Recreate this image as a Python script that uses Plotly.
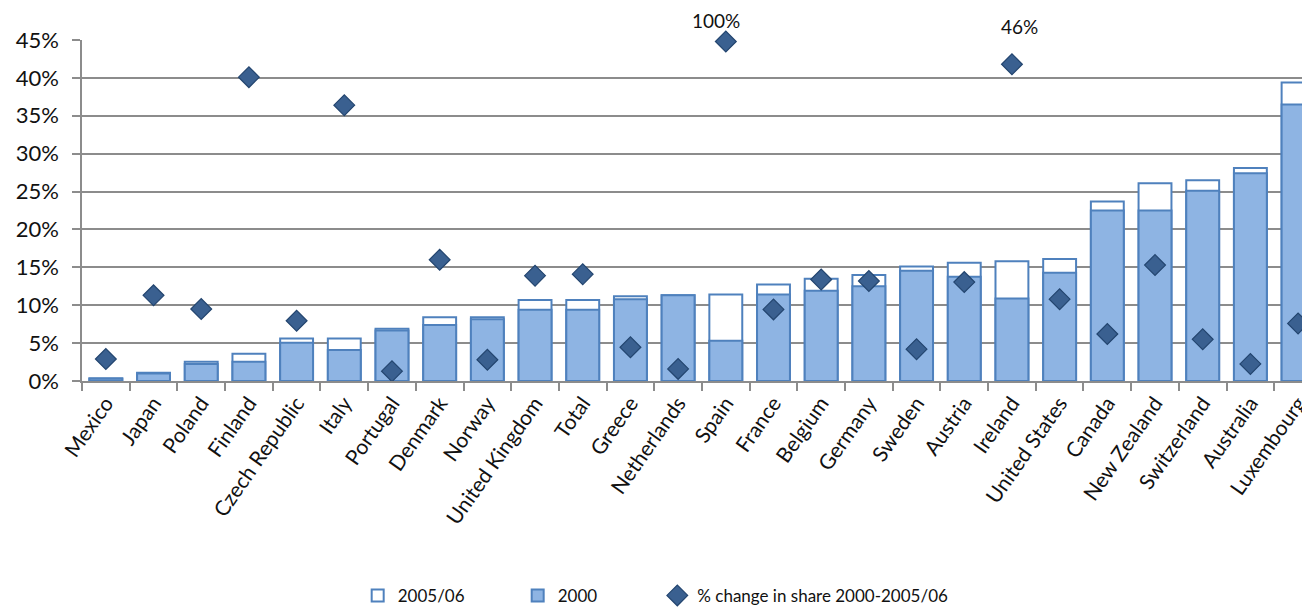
import plotly.graph_objects as go

countries = ["Mexico", "Japan", "Poland", "Finland", "Czech Republic", "Italy", "Portugal",
             "Denmark", "Norway", "United Kingdom", "Total", "Greece", "Netherlands", "Spain",
             "France", "Belgium", "Germany", "Sweden", "Austria", "Ireland", "United States",
             "Canada", "New Zealand", "Switzerland", "Australia", "Luxembourg"]
share_2005 = [0.35, 1.1, 2.55, 3.6, 5.6, 5.6, 6.9, 8.4, 8.4, 10.7, 10.7, 11.2, 11.3, 11.4,
              12.75, 13.5, 14.0, 15.1, 15.6, 15.8, 16.1, 23.7, 26.1, 26.5, 28.1, 39.4]
share_2000 = [0.3, 1.0, 2.25, 2.55, 5.05, 4.1, 6.65, 7.4, 8.15, 9.4, 9.4, 10.8, 11.3, 5.3,
              11.4, 11.9, 12.5, 14.55, 13.75, 10.9, 14.3, 22.5, 22.5, 25.1, 27.4, 36.5]
# plotted positions of the diamonds (Spain and Ireland shown off-scale with labels)
pct_change = [2.9, 11.3, 9.5, 40.1, 7.95, 36.4, 1.3, 16.0, 2.8, 13.9, 14.1, 4.45, 1.6, 44.8,
              9.45, 13.4, 13.2, 4.2, 13.05, 41.8, 10.8, 6.2, 15.3, 5.5, 2.25, 7.6]
offscale_labels = {"Spain": "100%", "Ireland": "46%"}
y_ticks = [0, 5, 10, 15, 20, 25, 30, 35, 40, 45]

FONT = "Lato"
BLUE = "#4F81BD"
LIGHT = "#8EB4E3"
GRID = "#8c8c8c"
Y_MAX = 45

fig = go.Figure()
fig.add_trace(go.Bar(x=countries, y=share_2005, name="2005/06", width=0.69,
                     marker=dict(color="white", line=dict(color=BLUE, width=2))))
fig.add_trace(go.Bar(x=countries, y=share_2000, name="2000", width=0.69,
                     marker=dict(color=LIGHT, line=dict(color=BLUE, width=2))))
fig.add_trace(go.Scatter(x=countries, y=pct_change, mode="markers", legend="legend2",
                         name="% change in share 2000-2005/06", cliponaxis=False,
                         marker=dict(symbol="diamond", size=16, color="#3A6090",
                                     line=dict(color="#23456F", width=1.2))))

ann = []
for c, t in offscale_labels.items():
    yv = 47.6 if c == "Spain" else 46.8
    ann.append(dict(x=c, y=yv / Y_MAX, xref="x", yref="paper", yanchor="middle", text=t,
                    showarrow=False, xshift=-10 if c == "Spain" else 8,
                    font=dict(family=FONT, size=19, color="#111")))

# the page body adds an 8px offset, so the figure is sized 8px smaller
fig.update_layout(
    barmode="overlay",
    width=1302, height=599,
    margin=dict(l=74, r=0, t=32, b=226, autoexpand=False),
    plot_bgcolor="white", paper_bgcolor="white",
    font=dict(family=FONT, color="#111"),
    annotations=ann,
    showlegend=True,
    legend=dict(orientation="h", x=0.2245, xanchor="left", y=-0.63, yanchor="middle",
                font=dict(family=FONT, size=17, color="#111"), entrywidth=115,
                traceorder="normal"),
    legend2=dict(orientation="h", x=0.4685, xanchor="left", y=-0.63, yanchor="middle",
                 font=dict(family=FONT, size=17, color="#111")),
    xaxis=dict(range=[-0.5, 25.25], showline=True, linecolor=GRID, linewidth=1.5,
               automargin=False,
               ticks="outside", tickson="boundaries", ticklen=8, tickcolor=GRID, tickwidth=1.5,
               tickangle=-55, tickfont=dict(family=FONT, size=21, color="#111"),
               showgrid=False),
    yaxis=dict(range=[0, Y_MAX], tickvals=y_ticks, ticktext=[f"{v}%" for v in y_ticks],
               automargin=False,
               showgrid=True, gridcolor=GRID, gridwidth=1.5, zeroline=False,
               showline=True, linecolor=GRID, linewidth=1.5,
               ticks="outside", ticklen=8, tickcolor=GRID, tickwidth=1.5,
               ticklabelstandoff=9,
               tickfont=dict(family=FONT, size=22, color="#111")),
)

fig.write_html("out.html")
